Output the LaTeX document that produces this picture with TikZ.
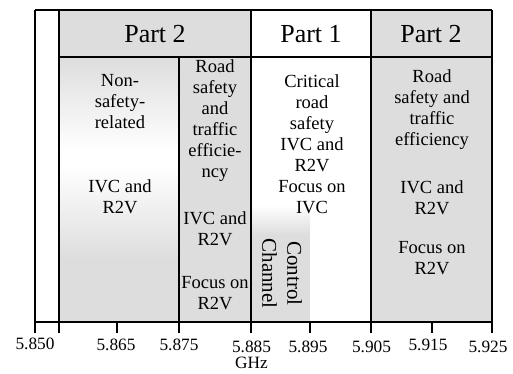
\documentclass[tikz,border=0pt]{standalone}
\usepackage{fontspec}
\setmainfont{Liberation Serif}
\definecolor{bandgray}{RGB}{221,221,221}
\begin{document}
\begin{tikzpicture}[x=1pt,y=1pt,
  frame/.style={line width=1.3pt,draw=black},
  head/.style={font=\fontsize{26}{30}\selectfont,inner sep=0pt},
  body/.style={font=\fontsize{18.5}{21}\selectfont,align=center,inner sep=0pt},
  ticklab/.style={font=\fontsize{17.3}{20}\selectfont,inner sep=0pt}]
\useasboundingbox (0,0) rectangle (513,373);
% fills
\fill[bandgray] (59,316) rectangle (251,363);
\fill[bandgray] (371,51) rectangle (492,363);
\fill[bandgray] (179,51) rectangle (251,316);
\shade[top color=bandgray,bottom color=white] (59,223) rectangle (179,316);
\fill[white] (59,208) rectangle (179,223);
\shade[top color=white,bottom color=bandgray] (59,113) rectangle (179,208);
\fill[bandgray] (59,51) rectangle (179,113);
\shade[top color=white,bottom color=bandgray] (251,138) rectangle (310,168);
\fill[bandgray] (251,51) rectangle (310,138);
% grid lines
\draw[frame] (35,363) -- (492,363);
\draw[frame] (59,316) -- (492,316);
\draw[frame] (35,363) -- (35,51);
\draw[frame] (59,363) -- (59,51);
\draw[frame] (179,316) -- (179,51);
\draw[frame] (251,363) -- (251,51);
\draw[frame] (371,363) -- (371,51);
\draw[frame] (492,363) -- (492,51);
\draw[frame] (35,51) -- (492,51);
\foreach \x in {35,59,117,179,251,310,371,432,492}
  \draw[frame] (\x,51) -- (\x,40);
% headers
\node[head] (h1) at (155,338.5) {Part 2};
\node[head] (h2) at (311,338.5) {Part 1};
\node[head] (h3) at (431,338.5) {Part 2};
% column texts
\node[body] (c1a) at (120,271) {Non-\\safety-\\related};
\node[body] (c1b) at (120,176) {IVC and\\R2V};
\node[body] (c2a) at (215,252.5) {Road\\safety\\and\\traffic\\efficie-\\ncy};
\node[body] (c2b) at (215,144.5) {IVC and\\R2V};
\node[body] (c2c) at (215,79.5) {Focus on\\R2V};
\node[body] (c3a) at (312,229) {Critical\\road\\safety\\IVC and\\R2V\\Focus on\\IVC};
\node[body] (c4a) at (432,263) {Road\\safety and\\traffic\\efficiency};
\node[body] (c4b) at (432,175.5) {IVC and\\R2V};
\node[body] (c4c) at (432,114.5) {Focus on\\R2V};
\node[body,font=\fontsize{21}{25}\selectfont,rotate=-90] (cc) at (282,99.5) {Control\\Channel};
% tick labels
\node[ticklab] (t1) at (35,29) {5.850};
\node[ticklab] (t2) at (116,28) {5.865};
\node[ticklab] (t3) at (179,28) {5.875};
\node[ticklab] (t4) at (251.5,26.5) {5.885};
\node[ticklab] (t5) at (308,26.5) {5.895};
\node[ticklab] (t6) at (371.5,26.5) {5.905};
\node[ticklab] (t7) at (428,28) {5.915};
\node[ticklab] (t8) at (488,26.5) {5.925};
\node[ticklab] (ghz) at (251.5,10.5) {GHz};
\end{tikzpicture}
\end{document}
